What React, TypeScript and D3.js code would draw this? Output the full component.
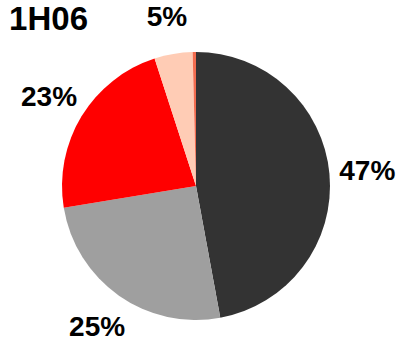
import React from "react";
import * as d3 from "d3";

const categories = ["A", "B", "C", "D", "E"];
const values = [47.1, 25.3, 22.6, 4.6, 0.4];
const labels = ["47%", "25%", "23%", "5%", ""];
const colors = ["#333333", "#9f9f9f", "#ff0000", "#ffccb5", "#f26c4f"];
const title = "1H06";

const W = 402;
const H = 348;
const cx = 196;
const cy = 186;
const R = 134;
const labelR = 172;

export default function App() {
  const pie = d3.pie<number>().sort(null).value((d) => d)(values);
  const arc = d3.arc<d3.PieArcDatum<number>>().innerRadius(0).outerRadius(R);
  const labelArc = d3.arc<d3.PieArcDatum<number>>().innerRadius(labelR).outerRadius(labelR);
  return (
    <svg
      width={W}
      height={H}
      style={{ position: "absolute", left: 0, top: 0, background: "#fff" }}
      fontFamily="'Liberation Sans', Arial, sans-serif"
    >
      <text x={88} y={30} textAnchor="end" fontSize={33} fontWeight="bold" fill="#000">
        {title}
      </text>
      <g transform={`translate(${cx},${cy})`}>
        {pie.map((p, i) => (
          <path key={categories[i]} d={arc(p) || ""} fill={colors[i]} />
        ))}
        {pie.map((p, i) => {
          const [x, y] = labelArc.centroid(p);
          return labels[i] ? (
            <text
              key={"l" + i}
              x={x}
              y={y}
              textAnchor="middle"
              dominantBaseline="central"
              fontSize={28}
              fontWeight="bold"
              fill="#000"
            >
              {labels[i]}
            </text>
          ) : null;
        })}
      </g>
    </svg>
  );
}
